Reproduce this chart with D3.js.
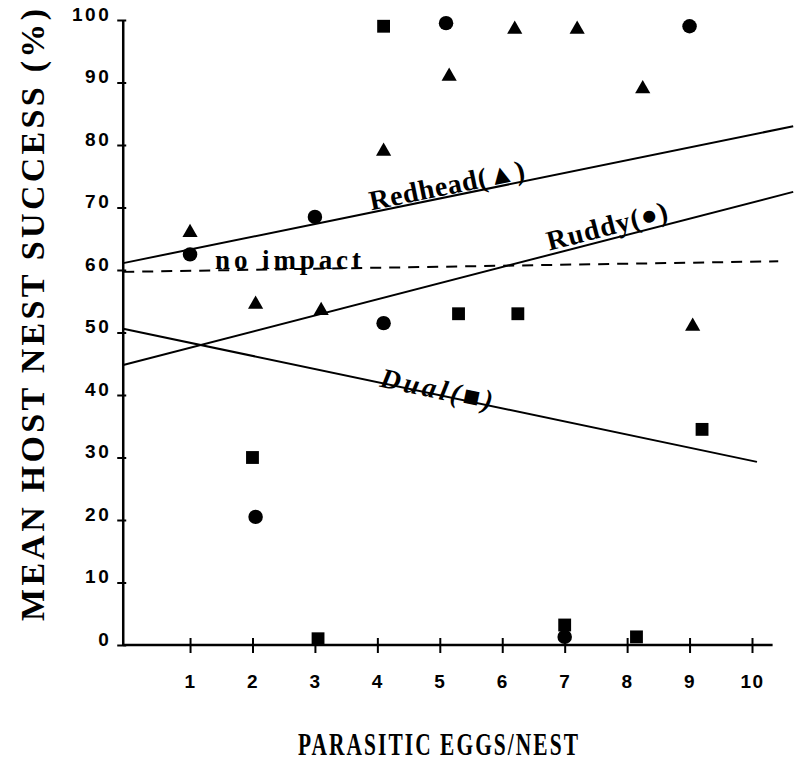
<!DOCTYPE html>
<html>
<head>
<meta charset="utf-8">
<script src="https://cdn.jsdelivr.net/npm/d3@7"></script>
<style>
  body { margin: 0; background: #fff; }
  svg { display: block; }
</style>
</head>
<body>
<div id="chart"></div>
<script>
// tick values
const xTicks = [1, 2, 3, 4, 5, 6, 7, 8, 9, 10];
const yTicks = [0, 10, 20, 30, 40, 50, 60, 70, 80, 90, 100];

// Redhead (triangles)
const redheadX = [1, 2.05, 3.1, 4.1, 5.15, 6.2, 7.2, 8.25, 9.05];
const redheadY = [66, 54.5, 53.5, 79, 91, 98.5, 98.5, 89, 51];

// Ruddy (circles)
const ruddyX = [1, 2.05, 3, 4.1, 5.1, 7, 9];
const ruddyY = [62.5, 20.5, 68.5, 51.5, 99.5, 1.3, 99];

// Dual (squares)
const dualX = [2, 3.05, 4.1, 5.3, 6.25, 7, 8.15, 9.2];
const dualY = [30, 1, 99, 53, 53, 3.2, 1.3, 34.5];

// fitted lines, two end points each
const redheadFitX = [-0.07, 10.66];
const redheadFitY = [61.1, 83];
const ruddyFitX = [-0.07, 10.66];
const ruddyFitY = [44.8, 72.5];
const dualFitX = [-0.07, 10.08];
const dualFitY = [50.6, 29.3];
const noImpactX = [-0.07, 10.42];
const noImpactY = [59.7, 61.4];

var width = 794, height = 778;

var x = d3.scaleLinear().domain([0, 10]).range([127.6, 752]);
var y = d3.scaleLinear().domain([0, 100]).range([645, 20]);

var svg = d3.select('#chart')
  .append('svg')
  .attr('width', width)
  .attr('height', height);

var serif = "'Liberation Serif', 'Times New Roman', serif";
var sans = "'Liberation Sans', Arial, sans-serif";

// axes
svg.append('line')
  .attr('x1', x(-0.07)).attr('x2', x(-0.07))
  .attr('y1', y(100)).attr('y2', y(0))
  .attr('stroke', '#000').attr('stroke-width', 2.5);

svg.append('line')
  .attr('x1', x(-0.07)).attr('x2', x(10.33))
  .attr('y1', y(0)).attr('y2', y(0))
  .attr('stroke', '#000').attr('stroke-width', 2.5);

var yAxis = svg.append('g')
  .attr('transform', 'translate(' + x(-0.07) + ',0)')
  .call(d3.axisLeft(y).tickValues(yTicks).tickSize(6).tickPadding(6));
yAxis.select('.domain').remove();
yAxis.selectAll('.tick line')
  .attr('x1', 3)
  .attr('stroke-width', 2);
yAxis.selectAll('.tick text')
  .attr('dy', 0)
  .attr('font-family', sans)
  .attr('font-weight', 'bold')
  .attr('font-size', 19)
  .attr('letter-spacing', 2.5)
  .attr('fill', '#000');

var xAxis = svg.append('g')
  .attr('transform', 'translate(0,' + y(0) + ')')
  .call(d3.axisBottom(x).tickValues(xTicks).tickSize(8).tickPadding(22));
xAxis.select('.domain').remove();
xAxis.selectAll('.tick line')
  .attr('y1', -7)
  .attr('stroke-width', 2);
xAxis.selectAll('.tick text')
  .attr('font-family', sans)
  .attr('font-weight', 'bold')
  .attr('font-size', 19)
  .attr('letter-spacing', 1.5)
  .attr('fill', '#000');

// fitted lines
var line = d3.line()
  .x(function(d) { return x(d[0]); })
  .y(function(d) { return y(d[1]); });

function fit(xs, ys) {
  return xs.map(function(v, i) { return [v, ys[i]]; });
}

svg.append('path')
  .datum(fit(noImpactX, noImpactY))
  .attr('d', line)
  .attr('fill', 'none')
  .attr('stroke', '#000')
  .attr('stroke-width', 2)
  .attr('stroke-dasharray', '11,8');

[[redheadFitX, redheadFitY], [ruddyFitX, ruddyFitY], [dualFitX, dualFitY]]
  .forEach(function(p) {
    svg.append('path')
      .datum(fit(p[0], p[1]))
      .attr('d', line)
      .attr('fill', 'none')
      .attr('stroke', '#000')
      .attr('stroke-width', 2);
  });

// labels lying along the lines
function lineLabel(txt, xs, ys, at, offset, len, italic) {
  var t = (at - xs[0]) / (xs[1] - xs[0]);
  var px = x(at);
  var py = y(ys[0] + t * (ys[1] - ys[0]));
  var ang = Math.atan2(y(ys[1]) - y(ys[0]), x(xs[1]) - x(xs[0])) * 180 / Math.PI;
  svg.append('text')
    .attr('transform', 'translate(' + px + ',' + py + ') rotate(' + ang + ')')
    .attr('y', offset)
    .attr('font-family', serif)
    .attr('font-weight', 'bold')
    .attr('font-style', italic ? 'italic' : 'normal')
    .attr('font-size', 28)
    .attr('textLength', len)
    .attr('lengthAdjust', 'spacing')
    .text(txt);
}

lineLabel('Redhead(\u25B2)', redheadFitX, redheadFitY, 3.91, -2, 158, false);
lineLabel('Ruddy(\u25CF)', ruddyFitX, ruddyFitY, 6.77, -4, 124, false);
lineLabel('Dual(\u25A0)', dualFitX, dualFitY, 4.04, 4, 114, true);

svg.append('text')
  .attr('x', 215)
  .attr('y', y(59.7) - 3)
  .attr('font-family', serif)
  .attr('font-weight', 'bold')
  .attr('font-size', 27)
  .attr('textLength', 146)
  .attr('lengthAdjust', 'spacing')
  .text('no impact');

// points
function points(xs, ys, type, size) {
  svg.append('g')
    .selectAll('path')
    .data(xs.map(function(v, i) { return [v, ys[i]]; }))
    .enter()
    .append('path')
    .attr('transform', function(d) {
      return 'translate(' + x(d[0]) + ',' + y(d[1]) + ')';
    })
    .attr('d', d3.symbol().type(type).size(size))
    .attr('fill', '#000');
}

points(redheadX, redheadY, d3.symbolTriangle, 100);
points(ruddyX, ruddyY, d3.symbolCircle, 165);
points(dualX, dualY, d3.symbolSquare, 165);

// axis titles
svg.append('text')
  .attr('transform', 'translate(44,315) rotate(-90)')
  .attr('text-anchor', 'middle')
  .attr('font-family', serif)
  .attr('font-weight', 'bold')
  .attr('font-size', 34)
  .attr('textLength', 612)
  .attr('lengthAdjust', 'spacing')
  .text('MEAN  HOST  NEST  SUCCESS (%)');

svg.append('text')
  .attr('x', 439)
  .attr('y', 755)
  .attr('text-anchor', 'middle')
  .attr('font-family', serif)
  .attr('font-weight', 'bold')
  .attr('font-size', 31)
  .attr('letter-spacing', 3)
  .attr('textLength', 282)
  .attr('lengthAdjust', 'spacingAndGlyphs')
  .text('PARASITIC  EGGS/NEST');
</script>
</body>
</html>
